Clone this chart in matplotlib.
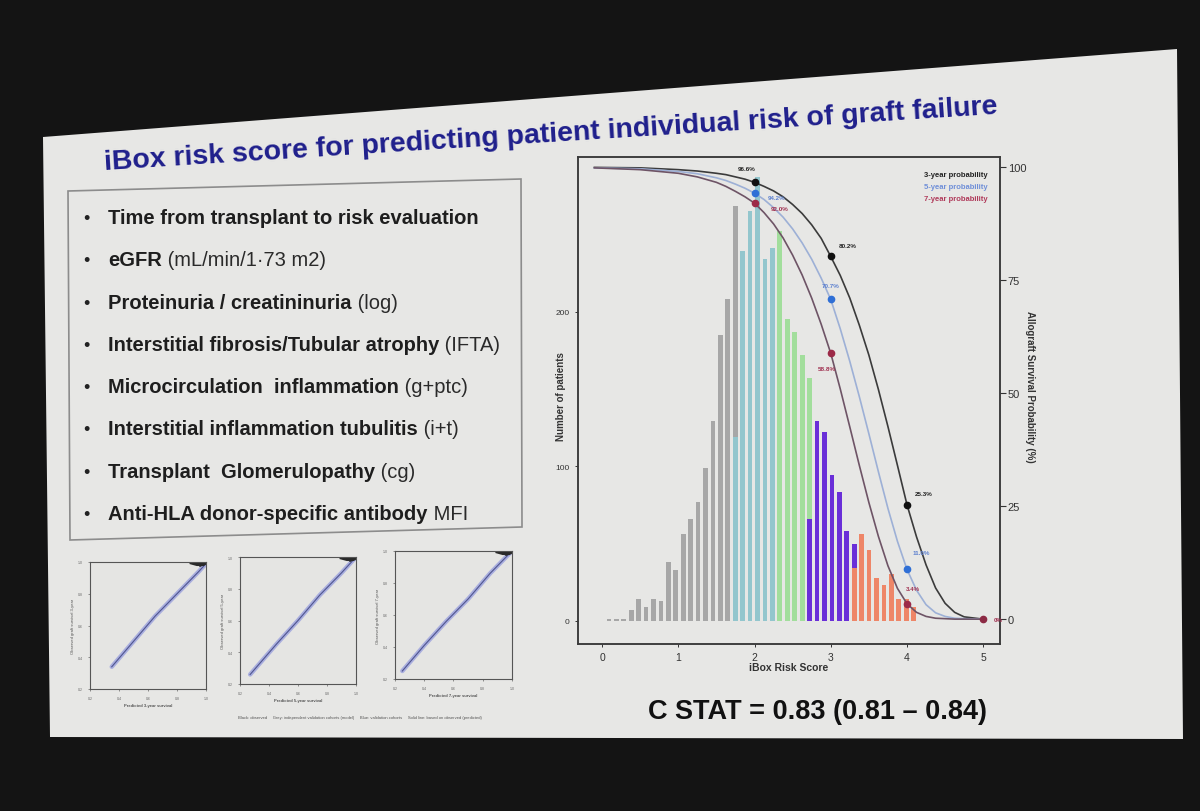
import numpy as np
import matplotlib
matplotlib.use("Agg")
import matplotlib.pyplot as plt
from matplotlib.patches import Polygon

plt.rcParams['font.family'] = ['Liberation Sans', 'DejaVu Sans']

# ---- histogram: patients per iBox score bin, one list per risk group ----
bin_start = 0.09
bin_width = 0.0975
gray_first = 0
gray_counts = [1, 1, 1, 7, 14, 9, 14, 13, 38, 33, 56, 66, 77, 99, 129, 185, 208, 268]
blue_first = 17
blue_counts = [119, 239, 265, 287, 234, 241]
green_first = 23
green_counts = [252, 195, 187, 172, 157]
purple_first = 27
purple_counts = [66, 129, 122, 94, 83, 58, 50]
orange_first = 33
orange_counts = [34, 56, 46, 28, 23, 30, 14, 14, 9]

# ---- survival curves ----
curve_score = [-0.1, 0.5, 1, 1.25, 1.5, 1.625, 1.75, 1.875, 2, 2.125, 2.25, 2.375, 2.5,
               2.625, 2.75, 2.875, 3, 3.125, 3.25, 3.375, 3.5, 3.625, 3.75, 3.875, 4,
               4.125, 4.25, 4.375, 4.5, 4.625, 4.75, 5]
surv_3y = [99.9, 99.8, 99.4, 99.1, 98.6, 98.3, 97.8, 97.3, 96.6, 95.7, 94.7, 93.4, 91.7,
           89.7, 87.2, 84.2, 80.2, 76.0, 71.0, 65.0, 58.4, 50.8, 42.6, 34.0, 25.3,
           18.2, 12.0, 6.9, 3.5, 1.5, 0.5, 0.0]
surv_5y = [99.8, 99.6, 99.0, 98.5, 97.6, 97.0, 96.2, 95.3, 94.2, 92.8, 91.0, 88.9, 86.3,
           83.2, 79.6, 75.4, 70.7, 64.2, 57.0, 49.2, 41.0, 32.6, 24.5, 17.2, 11.0,
           6.4, 3.2, 1.4, 0.6, 0.2, 0.1, 0.0]
surv_7y = [99.8, 99.4, 98.6, 97.8, 96.6, 95.7, 94.6, 93.4, 92.0, 89.9, 87.4, 84.3, 80.5,
           76.1, 71.0, 65.2, 58.8, 50.9, 42.5, 34.0, 25.8, 18.3, 11.8, 6.8, 3.4,
           1.5, 0.6, 0.2, 0.1, 0.0, 0.0, 0.0]
dot_score = [2, 3, 4]
dots_3y = [96.6, 80.2, 25.3]
dots_5y = [94.2, 70.7, 11.0]
dots_7y = [92.0, 58.8, 3.4]
end_score, end_surv = 5, 0

legend_labels = ["3-year probability", "5-year probability", "7-year probability"]

bullet_bold = ["Time from transplant to risk evaluation", "eGFR", "Proteinuria / creatininuria",
               "Interstitial fibrosis/Tubular atrophy", "Microcirculation  inflammation",
               "Interstitial inflammation tubulitis", "Transplant  Glomerulopathy",
               "Anti-HLA donor-specific antibody"]
bullet_normal = ["", " (mL/min/1\u00b773 m2)", " (log)", " (IFTA)", " (g+ptc)", " (i+t)",
                 " (cg)", " MFI"]

# calibration mini plots
cal_years = [3, 5, 7]
cal_pred = [[0.35, 0.5, 0.65, 0.8, 0.95, 1.0],
            [0.27, 0.45, 0.6, 0.75, 0.9, 0.99],
            [0.25, 0.4, 0.55, 0.7, 0.85, 1.0]]
cal_obs = [[0.34, 0.5, 0.66, 0.8, 0.94, 0.99],
           [0.26, 0.45, 0.6, 0.76, 0.9, 0.99],
           [0.25, 0.41, 0.56, 0.7, 0.86, 1.0]]
cluster_x = [0.90, 0.92, 0.94, 0.95, 0.96, 0.97, 0.98, 0.99]
cluster_y = [0.995, 0.99, 0.985, 0.995, 0.98, 0.99, 0.985, 0.99]

# ------------------------------------------------------------------
fig = plt.figure(figsize=(12, 8.12), dpi=100)
fig.patch.set_facecolor('#141414')

bg = fig.add_axes([0, 0, 1, 1])
bg.set_xlim(0, 1200)
bg.set_ylim(812, 0)
bg.axis('off')

# slide and text box (photo is a bit skewed)
bg.add_patch(Polygon([(43, 138), (1177, 50), (1183, 740), (50, 738)], closed=True,
                     facecolor='#e7e7e5', edgecolor='none'))
bg.add_patch(Polygon([(68, 192), (521, 180), (522, 528), (70, 541)], closed=True,
                     facecolor='none', edgecolor='#8c8c8c', lw=1.2))

bg.text(105, 170, "iBox risk score for predicting patient individual risk of graft failure",
        rotation=3.6, rotation_mode='anchor', ha='left', va='baseline',
        fontsize=20.5, fontweight='bold', color='#1f1f8c')

for i in range(len(bullet_bold)):
    y = 224 + i * 42.3
    bg.text(86, y, "\u2022", fontsize=13, color='#222222', va='baseline', ha='center')
    t = bg.text(108, y, bullet_bold[i], fontsize=14.5, fontweight='bold',
                color='#1e1e1e', va='baseline')
    if bullet_normal[i]:
        bg.annotate(bullet_normal[i], xy=(1, 0), xycoords=t, va='bottom',
                    fontsize=14.5, color='#2a2a2a')

bg.text(817, 719, "C STAT = 0.83 (0.81 \u2013 0.84)", ha='center', va='baseline',
        fontsize=19.5, fontweight='bold', color='#111111')

# ---- main chart ----
ax = fig.add_axes([578 / 1200, 1 - 645 / 812, 422 / 1200, 487 / 812])
ax.set_facecolor('none')
centers = bin_start + bin_width * np.arange(45)
groups = [(gray_first, gray_counts, '#a7a7a7'),
          (blue_first, blue_counts, '#93c6cd'),
          (green_first, green_counts, '#a2de9c'),
          (purple_first, purple_counts, '#6a2fd8'),
          (orange_first, orange_counts, '#ee8668')]
for first, counts, col in groups:
    ax.bar(centers[first:first + len(counts)], counts, width=0.062, color=col, zorder=2)

ax.set_xlim(-0.315, 5.22)
ax.set_ylim(-15, 300)
ax.set_yticks([0, 100, 200])
ax.set_xticks([0, 1, 2, 3, 4, 5])
ax.tick_params(axis='y', labelsize=6, length=2.5, width=0.7, colors='#333333')
ax.tick_params(axis='x', labelsize=7.5, length=2.5, width=0.7, colors='#333333')
ax.set_xlabel("iBox Risk Score", fontsize=7.5, fontweight='bold', color='#333333', labelpad=0)
ax.set_ylabel("Number of patients", fontsize=7, fontweight='bold', color='#333333')
ax.yaxis.set_label_coords(-0.028, 0.51)
for s in ax.spines.values():
    s.set_color('#3a3a3a')
    s.set_linewidth(1.1)

ax2 = ax.twinx()
ax2.set_ylim(-5.5, 102.2)
ax2.set_yticks([0, 25, 50, 75, 100])
ax2.tick_params(axis='y', labelsize=8, length=4, width=0.8, pad=1.5, colors='#333333')
ax2.set_ylabel("Allograft Survival Probability (%)", rotation=270, fontsize=7,
               fontweight='bold', color='#333333', va='center')
ax2.yaxis.set_label_coords(1.072, 0.53)
for s in ax2.spines.values():
    s.set_color('#3a3a3a')
    s.set_linewidth(1.1)

ax2.plot(curve_score, surv_3y, color='#3b3b3b', lw=1.2, zorder=3)
ax2.plot(curve_score, surv_5y, color='#9db0d6', lw=1.2, zorder=3)
ax2.plot(curve_score, surv_7y, color='#6e5466', lw=1.2, zorder=3)

ax2.plot(dot_score, dots_3y, 'o', color='#111111', ms=4.5, zorder=4)
ax2.plot(dot_score, dots_5y, 'o', color='#2f6fd6', ms=4.5, zorder=4)
ax2.plot(dot_score, dots_7y, 'o', color='#9c2a48', ms=4.5, zorder=4)
ax2.plot([end_score], [end_surv], 'o', color='#8c2a44', ms=4.5, zorder=4)

off_3y = [(-6, 10), (12, 8), (12, 8)]
off_5y = [(16, -3), (0, 10), (10, 12)]
off_7y = [(18, -4), (-3, -11), (4, 11)]
for vals, offs, col in [(dots_3y, off_3y, '#222222'), (dots_5y, off_5y, '#5b7fcf'),
                        (dots_7y, off_7y, '#a03050')]:
    for xs, v, o in zip(dot_score, vals, offs):
        ax2.annotate(f"{v:.1f}%", (xs, v), xytext=o, textcoords='offset points',
                     ha='center', va='center', fontsize=4.5, fontweight='bold', color=col)
ax2.annotate(f"{end_surv}%", (end_score, end_surv), xytext=(11, 0),
             textcoords='offset points', ha='center', va='center', fontsize=4.5,
             fontweight='bold', color='#a03050')

for lbl, col, yy in zip(legend_labels, ['#222222', '#6f8fd8', '#b03a5a'], [0.965, 0.94, 0.915]):
    ax2.text(0.97, yy, lbl, transform=ax2.transAxes, ha='right', va='center',
             fontsize=5.5, fontweight='bold', color=col)

# ---- calibration mini plots ----
boxes = [(90, 563, 206, 690), (240, 558, 356, 685), (395, 552, 512, 680)]
for k, (x0, y0, x1, y1) in enumerate(boxes):
    cax = fig.add_axes([x0 / 1200, 1 - y1 / 812, (x1 - x0) / 1200, (y1 - y0) / 812])
    cax.set_facecolor('#e5e5e3')
    cax.plot(cal_pred[k], cal_obs[k], color='#a9aede', lw=3.2, solid_capstyle='round')
    cax.plot(cal_pred[k], cal_obs[k], color='#4f5590', lw=0.8)
    cax.plot(cluster_x, cluster_y, color='#2a2a2a', lw=2.5)
    cax.set_xlim(0.2, 1.0)
    cax.set_ylim(0.2, 1.0)
    cax.set_xticks([0.2, 0.4, 0.6, 0.8, 1.0])
    cax.set_yticks([0.2, 0.4, 0.6, 0.8, 1.0])
    cax.tick_params(labelsize=2.5, length=1.5, width=0.5, colors='#666666')
    cax.set_xlabel(f"Predicted {cal_years[k]}-year survival", fontsize=3,
                   fontweight='bold', color='#555555', labelpad=2)
    cax.set_ylabel(f"Observed graft survival {cal_years[k]}-year", fontsize=3,
                   color='#555555', labelpad=2)
    for s in cax.spines.values():
        s.set_color('#555555')
        s.set_linewidth(0.8)

bg.text(238, 718, "Black: observed     Grey: independent validation cohorts (model)     "
        "Blue: validation cohorts     Solid line: based on observed (predicted)",
        fontsize=3, color='#555555', va='center')

fig.savefig("out.png", dpi=100, facecolor=fig.get_facecolor())
